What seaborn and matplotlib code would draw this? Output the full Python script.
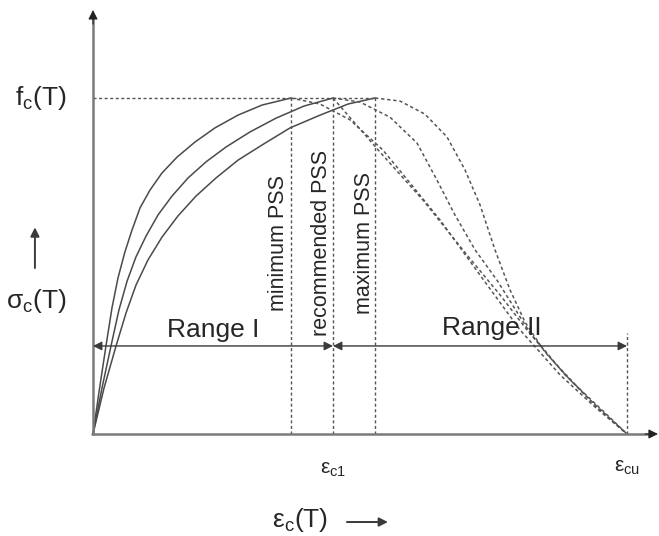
import matplotlib
matplotlib.use("Agg")
import matplotlib.pyplot as plt
import seaborn as sns

# ---------------- data (normalised: strain / eps_c1(recommended), stress / f_c(T)) ----------------
eps_c1_min = 0.825
eps_c1_rec = 1.0
eps_c1_max = 1.175
eps_cu = 2.225
range_level = 0.262

# ascending branches (solid)
asc_min_x = [0, 0.025, 0.054, 0.079, 0.104, 0.133, 0.1625, 0.196, 0.2375, 0.2875,
             0.35, 0.425, 0.508, 0.604, 0.704, 0.825]
asc_min_y = [0, 0.125, 0.262, 0.375, 0.464, 0.542, 0.607, 0.673, 0.726, 0.777,
             0.824, 0.869, 0.911, 0.949, 0.979, 1.0]
asc_rec_x = [0, 0.0375, 0.075, 0.108, 0.142, 0.179, 0.221, 0.271, 0.329, 0.396,
             0.471, 0.554, 0.654, 0.7625, 0.879, 1.0]
asc_rec_y = [0, 0.137, 0.262, 0.369, 0.455, 0.527, 0.589, 0.652, 0.708, 0.762,
             0.810, 0.854, 0.899, 0.940, 0.976, 1.0]
asc_max_x = [0, 0.046, 0.096, 0.1375, 0.179, 0.229, 0.2875, 0.354, 0.429, 0.5125,
             0.604, 0.704, 0.821, 0.946, 1.0625, 1.175]
asc_max_y = [0, 0.137, 0.262, 0.360, 0.443, 0.518, 0.586, 0.649, 0.708, 0.762,
             0.815, 0.860, 0.911, 0.949, 0.982, 1.0]

# descending branches (dashed)
desc_min_x = [0.825, 0.946, 1.071, 1.208, 1.321, 1.446, 1.6125, 1.779, 1.946, 2.092, 2.225]
desc_min_y = [1.0, 0.982, 0.935, 0.845, 0.747, 0.637, 0.473, 0.31, 0.176, 0.080, 0]
desc_rec_x = [1.0, 1.1125, 1.2375, 1.35, 1.433, 1.508, 1.592, 1.683, 1.821, 1.967, 2.104, 2.225]
desc_rec_y = [1.0, 0.988, 0.943, 0.866, 0.756, 0.652, 0.548, 0.458, 0.301, 0.176, 0.077, 0]
desc_max_x = [1.175, 1.279, 1.383, 1.475, 1.55, 1.6125, 1.675, 1.7375, 1.8, 1.883,
              1.988, 2.1125, 2.225]
desc_max_y = [1.0, 0.991, 0.952, 0.884, 0.786, 0.682, 0.548, 0.429, 0.333, 0.244,
              0.161, 0.077, 0]
desc_lin_x = [1.0, 1.196, 1.375, 1.558, 1.696, 1.808, 1.925, 2.071, 2.225]
desc_lin_y = [1.0, 0.839, 0.696, 0.533, 0.414, 0.31, 0.211, 0.101, 0]

pss_labels = ["minimum PSS", "recommended PSS", "maximum PSS"]
range_labels = ["Range I", "Range II"]

# ---------------- figure ----------------
sns.set_theme(style="white")
plt.rcParams["font.family"] = ["Liberation Sans", "DejaVu Sans"]
plt.rcParams["mathtext.fontset"] = "custom"
plt.rcParams["mathtext.rm"] = "Liberation Sans"

fig = plt.figure(figsize=(6.59, 5.36), dpi=100)
ax = fig.add_axes([0, 0, 1, 1])
ax.set_xlim(-0.3875, 2.3583)
ax.set_ylim(-0.3036, 1.2917)
ax.set_axis_off()

solid_c = "#4a4a4a"
dash_c = "#555555"
txt_c = "#262626"
head_c = "#222222"
dash_ls = (0, (2.2, 1.8))

for xs, ys in [(asc_min_x, asc_min_y), (asc_rec_x, asc_rec_y), (asc_max_x, asc_max_y)]:
    sns.lineplot(x=xs, y=ys, ax=ax, color=solid_c, lw=1.1, sort=False, legend=False)

for xs, ys in [(desc_min_x, desc_min_y), (desc_rec_x, desc_rec_y),
               (desc_max_x, desc_max_y), (desc_lin_x, desc_lin_y)]:
    sns.lineplot(x=xs, y=ys, ax=ax, color=dash_c, lw=1.1, linestyle=dash_ls,
                 sort=False, legend=False)

# reference dashed lines
for e in [eps_c1_min, eps_c1_rec, eps_c1_max]:
    ax.plot([e, e], [0, 1.0], color=dash_c, lw=1.0, linestyle=dash_ls)
ax.plot([0, eps_c1_max], [1.0, 1.0], color=dash_c, lw=1.0, linestyle=dash_ls)
ax.plot([eps_cu, eps_cu], [0, 0.30], color=dash_c, lw=1.0, linestyle=dash_ls)

# axes lines (grey) with dark arrow heads
ax_c = "#7a7a7a"
ax.plot([0, 0], [-0.004, 1.24], color=ax_c, lw=1.8, solid_capstyle="butt")
ax.plot([-0.004, 0], [0, 0], color=ax_c, lw=1.8)
ax.plot([0, 2.33], [0, 0], color=ax_c, lw=1.8, solid_capstyle="butt")
head = dict(arrowstyle="-|>", color=head_c, lw=0.8, mutation_scale=14,
            shrinkA=0, shrinkB=0)
ax.annotate("", xy=(0, 1.262), xytext=(0, 1.22), arrowprops=head)
ax.annotate("", xy=(2.354, 0), xytext=(2.30, 0), arrowprops=head)

# range arrows
rarr = dict(arrowstyle="<|-|>", color="#3a3a3a", lw=1.0, mutation_scale=13,
            shrinkA=0, shrinkB=0)
ax.annotate("", xy=(eps_c1_rec, range_level), xytext=(0, range_level), arrowprops=rarr)
ax.annotate("", xy=(eps_cu, range_level), xytext=(eps_c1_rec, range_level), arrowprops=rarr)
ax.text(0.5, 0.31, range_labels[0], fontsize=19, color=txt_c, ha="center", va="center")
ax.text(1.6625, 0.315, range_labels[1], fontsize=19, color=txt_c, ha="center", va="center")

# PSS labels
for xpos, lab in zip([0.771, 0.954, 1.133], pss_labels):
    ax.text(xpos, 0.568, lab, fontsize=15.5, color=txt_c, rotation=90,
            ha="center", va="center")

# axis labels
ax.text(-0.108, 1.0, "f$_\\mathregular{c}$(T)", fontsize=19, color=txt_c,
        ha="right", va="center")
ax.text(-0.2375, 0.396, "σ$_\\mathregular{c}$(T)", fontsize=19, color=txt_c,
        ha="center", va="center")
ax.text(0.8625, -0.256, "ε$_\\mathregular{c}$(T)", fontsize=19, color=txt_c,
        ha="center", va="center")
ax.text(eps_c1_rec, -0.107, "ε$_\\mathregular{c1}$", fontsize=15, color=txt_c,
        ha="center", va="center")
ax.text(eps_cu, -0.101, "ε$_\\mathregular{cu}$", fontsize=15, color=txt_c,
        ha="center", va="center")

sarr = dict(arrowstyle="-|>", color="#3a3a3a", lw=1.4, mutation_scale=13,
            shrinkA=0, shrinkB=0)
ax.annotate("", xy=(-0.242, 0.615), xytext=(-0.242, 0.494), arrowprops=sarr)
ax.annotate("", xy=(1.229, -0.262), xytext=(1.058, -0.262), arrowprops=sarr)

fig.savefig("out.png", dpi=100)
